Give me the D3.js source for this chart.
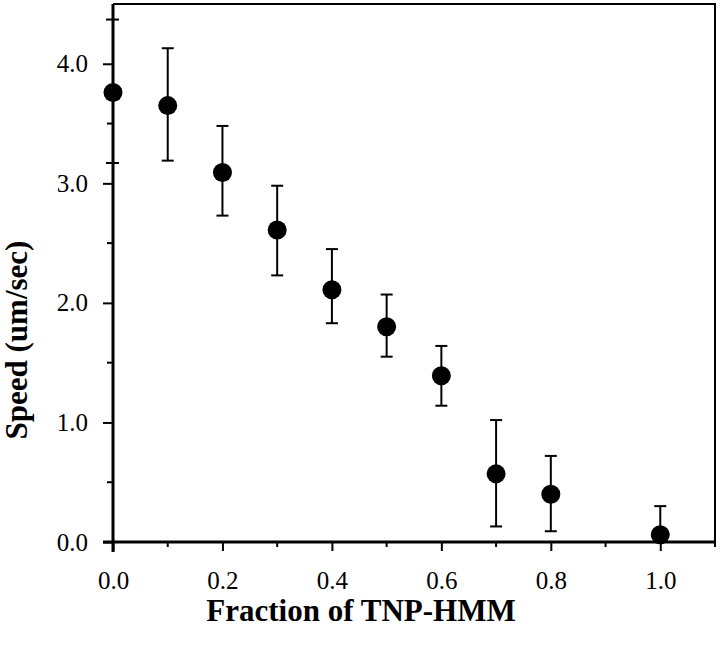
<!DOCTYPE html>
<html>
<head>
<meta charset="utf-8">
<script src="https://cdn.jsdelivr.net/npm/d3@7"></script>
<style>
  body { margin: 0; background: #fff; }
  svg { display: block; }
  text { font-family: "Liberation Serif", "Times New Roman", serif; fill: #000; }
</style>
</head>
<body>
<div id="chart"></div>
<script>
// fraction of TNP-HMM vs gliding speed
const fractions = [0.0, 0.1, 0.2, 0.3, 0.4, 0.5, 0.6, 0.7, 0.8, 1.0];
const speeds    = [3.76, 3.65, 3.09, 2.61, 2.11, 1.80, 1.39, 0.57, 0.40, 0.06];
const errUpper  = [null, 4.13, 3.48, 2.98, 2.45, 2.07, 1.64, 1.02, 0.72, 0.30];
const errLower  = [null, 3.19, 2.73, 2.23, 1.83, 1.55, 1.14, 0.13, 0.09, null];

const xTicks = [0.0, 0.2, 0.4, 0.6, 0.8, 1.0];
const xMinorTicks = [0.1, 0.3, 0.5, 0.7, 0.9, 1.1];
const yTicks = [0.0, 1.0, 2.0, 3.0, 4.0];
const yMinorTicks = [0.5, 1.5, 2.5, 3.5];
const yCrossTicks = [3.17, 4.37];

const W = 720, H = 648;
const margin = { top: 4, right: 5, bottom: 106, left: 113 };

const svg = d3.select('#chart').append('svg')
	.attr('width', W)
	.attr('height', H);

const x = d3.scaleLinear().domain([0, 1.1]).range([margin.left, W - margin.right]);
const y = d3.scaleLinear().domain([0, 4.5]).range([H - margin.bottom, margin.top]);

// frame (top + right)
svg.append('path')
	.attr('d', `M${x(0)},${y(4.5)}H${x(1.1)}V${y(0)}`)
	.attr('fill', 'none')
	.attr('stroke', '#000')
	.attr('stroke-width', 2);

// x axis
const xAxis = svg.append('g').attr('transform', `translate(0,${y(0)})`);
xAxis.call(d3.axisBottom(x).tickValues(xTicks).tickSize(9).tickPadding(20).tickFormat(d3.format('.1f')));
xAxis.append('g').selectAll('line')
	.data(xMinorTicks)
	.join('line')
	.attr('x1', d => x(d)).attr('x2', d => x(d))
	.attr('y1', 0).attr('y2', 5)
	.attr('stroke', '#000')
	.attr('stroke-width', 2);

// y axis
const yAxis = svg.append('g').attr('transform', `translate(${x(0)},0)`);
yAxis.call(d3.axisLeft(y).tickValues(yTicks).tickSize(10).tickPadding(15).tickFormat(d3.format('.1f')));
yAxis.append('g').selectAll('line')
	.data(yMinorTicks)
	.join('line')
	.attr('x1', -6).attr('x2', 0)
	.attr('y1', d => y(d)).attr('y2', d => y(d))
	.attr('stroke', '#000')
	.attr('stroke-width', 2);
yAxis.append('g').selectAll('line')
	.data(yCrossTicks)
	.join('line')
	.attr('x1', -7).attr('x2', 6)
	.attr('y1', d => y(d)).attr('y2', d => y(d))
	.attr('stroke', '#000')
	.attr('stroke-width', 2);

[xAxis, yAxis].forEach(a => {
	a.select('.domain').remove();
	a.selectAll('.tick line').attr('stroke-width', 2);
	a.selectAll('.tick text').attr('font-size', 25).attr('font-family', '"Liberation Serif", serif');
});
xAxis.append('line').attr('x1', x(0) - 10).attr('x2', x(1.1)).attr('y1', 0).attr('y2', 0)
	.attr('stroke', '#000').attr('stroke-width', 3);
yAxis.append('line').attr('x1', 0).attr('x2', 0).attr('y1', y(0) + 10).attr('y2', y(4.5))
	.attr('stroke', '#000').attr('stroke-width', 3);

// error bars
const pts = fractions.map((f, i) => ({ f, s: speeds[i], hi: errUpper[i], lo: errLower[i] }));
const eb = svg.append('g').attr('stroke', '#000').attr('stroke-width', 2);
const capW = 6;
pts.forEach(p => {
	const top = p.hi != null ? p.hi : p.s;
	const bot = p.lo != null ? p.lo : p.s;
	if (top === bot) return;
	eb.append('line').attr('x1', x(p.f)).attr('x2', x(p.f)).attr('y1', y(top)).attr('y2', y(bot));
	if (p.hi != null) eb.append('line').attr('x1', x(p.f) - capW).attr('x2', x(p.f) + capW).attr('y1', y(p.hi)).attr('y2', y(p.hi));
	if (p.lo != null) eb.append('line').attr('x1', x(p.f) - capW).attr('x2', x(p.f) + capW).attr('y1', y(p.lo)).attr('y2', y(p.lo));
});

// points
svg.append('g').selectAll('circle')
	.data(pts)
	.join('circle')
	.attr('cx', d => x(d.f))
	.attr('cy', d => y(d.s))
	.attr('r', 9.5)
	.attr('fill', '#000');

// labels
svg.append('text')
	.attr('x', 361)
	.attr('y', 621)
	.attr('text-anchor', 'middle')
	.attr('font-size', 31)
	.attr('font-weight', 'bold')
	.text('Fraction of TNP-HMM');

svg.append('text')
	.attr('transform', 'translate(27,340) rotate(-90)')
	.attr('text-anchor', 'middle')
	.attr('font-size', 31)
	.attr('font-weight', 'bold')
	.text('Speed (um/sec)');
</script>
</body>
</html>
